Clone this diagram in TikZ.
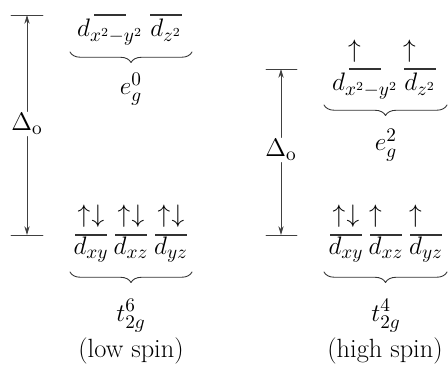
\documentclass[tikz,border=0pt]{standalone}
\usepackage{amsmath}
\usetikzlibrary{arrows.meta,positioning,calc,decorations.pathreplacing}

\begin{document}
\begin{tikzpicture}[x=0.02cm,y=-0.02cm,line join=round,line cap=round,
  font=\fontsize{15}{18}\selectfont,
  level/.style={line width=1.4pt,draw=black!80,line cap=butt},
  tick/.style={line width=0.5pt,draw=black!75},
  gaparrow/.style={line width=0.5pt,draw=black!75,-{Stealth[length=5pt,width=3pt]}},
  spin/.style={inner sep=0pt,anchor=south},
  orb/.style={inner sep=0pt,anchor=base},
  grp/.style={decorate,decoration={brace,mirror,amplitude=6pt},line width=0.5pt,draw=black!80}]
  \useasboundingbox (0,0) rectangle (448,377);
  % low spin
  \coordinate (LT) at (27,15);\coordinate (LB) at (27,235);
  \draw[tick] (11,15)--(43,15) (11,235)--(43,235);
  \node[inner sep=1pt] (LD) at (27,124) {$\Delta_{\mathrm{o}}$};
  \draw[gaparrow] (LD)--(LT);\draw[gaparrow] (LD)--(LB);
  \foreach \n/\x/\lab in {Lx/110/{x^2-y^2},Lz/166/{z^2}}{
    \draw[level] (\x-16,15)--(\x+16,15);
    \node[orb] (\n) at (\x,37) {$d_{\lab}$};}
  \foreach \n/\x/\lab in {Lxy/91/xy,Lxz/131/xz,Lyz/171/yz}{
    \draw[level] (\x-16,235)--(\x+16,235);
    \node[spin] at (\x,228) {$\uparrow\mkern1mu\downarrow$};
    \node[orb] (\n) at (\x,255) {$d_{\lab}$};}
  \coordinate (LeA) at (70,52);\coordinate (LeB) at (192,52);
  \coordinate (LtA) at (70,272);\coordinate (LtB) at (192,272);
  \draw[grp] (LeA)--(LeB);\draw[grp] (LtA)--(LtB);
  \node[orb] (Leg) at (131,95) {$e_g^0$};
  \node[orb] (Lt) at (131,321) {$t_{2g}^6$};
  \node[orb] (Lname) at (131,357) {(low spin)};
  % high spin
  \coordinate (RT) at (281,69);\coordinate (RB) at (281,235);
  \draw[tick] (266,69)--(297,69) (266,235)--(297,235);
  \node[inner sep=1pt] (RD) at (281,150) {$\Delta_{\mathrm{o}}$};
  \draw[gaparrow] (RD)--(RT);\draw[gaparrow] (RD)--(RB);
  \foreach \n/\x/\lab in {Rx/365/{x^2-y^2},Rz/420/{z^2}}{
    \draw[level] (\x-16,69)--(\x+16,69);
    \node[spin] at (\x,63) {$\uparrow\mkern1mu\phantom{\downarrow}$};
    \node[orb] (\n) at (\x,91) {$d_{\lab}$};}
  \foreach \n/\x/\lab/\e in {Rxy/346/xy/{\uparrow\mkern1mu\downarrow},Rxz/386/xz/{\uparrow\mkern1mu\phantom{\downarrow}},Ryz/426/yz/{\uparrow\mkern1mu\phantom{\downarrow}}}{
    \draw[level] (\x-16,235)--(\x+16,235);
    \node[spin] at (\x,228) {$\e$};
    \node[orb] (\n) at (\x,255) {$d_{\lab}$};}
  \coordinate (ReA) at (324,105);\coordinate (ReB) at (447,105);
  \coordinate (RtA) at (324,272);\coordinate (RtB) at (447,272);
  \draw[grp] (ReA)--(ReB);\draw[grp] (RtA)--(RtB);
  \node[orb] (Reg) at (386,151) {$e_g^2$};
  \node[orb] (Rt) at (386,321) {$t_{2g}^4$};
  \node[orb] (Rname) at (385,357) {(high spin)};
\end{tikzpicture}
\end{document}
